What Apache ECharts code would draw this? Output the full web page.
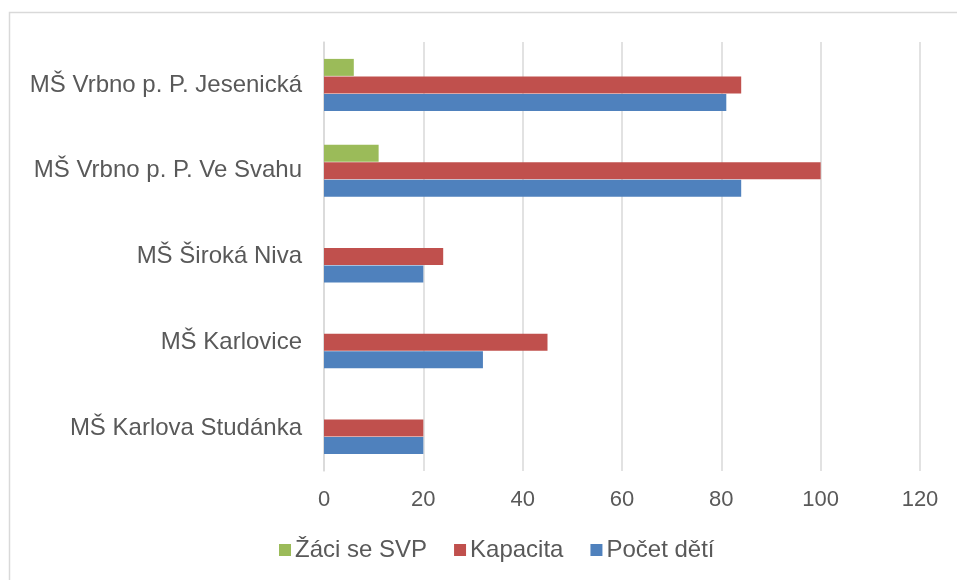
<!DOCTYPE html>
<html>
<head>
<meta charset="utf-8">
<script src="https://cdn.jsdelivr.net/npm/echarts@6/dist/echarts.min.js"></script>
<style>
  html, body { margin: 0; padding: 0; background: #fff; }
  #chart-box { width: 957px; height: 580px; }
</style>
</head>
<body>
<div id="chart-box"></div>
<script>
// categories bottom -> top
const schools = [
  "MŠ Karlova Studánka",
  "MŠ Karlovice",
  "MŠ Široká Niva",
  "MŠ Vrbno p. P. Ve Svahu",
  "MŠ Vrbno p. P. Jesenická",
];
const pocetDeti = [20, 32, 20, 84, 81];
const kapacita = [20, 45, 24, 100, 84];
const zaciSvp = [0, 0, 0, 11, 6];
const xTicks = [0, 20, 40, 60, 80, 100, 120];

const textColor = "#595959";
const fontFamily = "Liberation Sans, Arial, sans-serif";

const chart = echarts.init(document.getElementById("chart-box"));
const option = {
  animation: false,
  graphic: [
    {
      type: "polyline",
      shape: { points: [[9.5, 580], [9.5, 12.5], [957, 12.5]] },
      style: { stroke: "#d9d9d9", lineWidth: 1.5, fill: null },
    },
  ],
  legend: {
    bottom: 13,
    left: 274,
    itemWidth: 12,
    itemHeight: 12,
    itemGap: 27,
    icon: "rect",
    data: ["Žáci se SVP", "Kapacita", "Počet dětí"],
    textStyle: { color: textColor, fontSize: 24, fontFamily: fontFamily, padding: [0, 0, 0, -1] },
  },
  grid: {
    left: 324,
    right: 37,
    top: 42,
    bottom: 109,
    containLabel: false,
  },
  xAxis: {
    type: "value",
    min: xTicks[0],
    max: xTicks[xTicks.length - 1],
    interval: 20,
    axisLine: { show: false },
    axisTick: { show: false },
    splitLine: { lineStyle: { color: "#d9d9d9", width: 1.5 } },
    axisLabel: { color: textColor, fontSize: 22, fontFamily: fontFamily, margin: 18 },
  },
  yAxis: {
    type: "category",
    data: schools,
    axisLine: { lineStyle: { color: "#d9d9d9", width: 1.5 } },
    axisTick: { show: false },
    axisLabel: { color: textColor, fontSize: 24, fontFamily: fontFamily, margin: 22 },
  },
  series: [
    {
      name: "Žáci se SVP",
      type: "bar",
      data: zaciSvp,
      barWidth: 17,
      barGap: "3%",
      itemStyle: { color: "#9bbb59" },
    },
    {
      name: "Kapacita",
      type: "bar",
      data: kapacita,
      barWidth: 17,
      barGap: "3%",
      itemStyle: { color: "#c0504d" },
    },
    {
      name: "Počet dětí",
      type: "bar",
      data: pocetDeti,
      barWidth: 17,
      barGap: "3%",
      itemStyle: { color: "#4f81bd" },
    },
  ],
};
chart.setOption(option);
</script>
</body>
</html>
